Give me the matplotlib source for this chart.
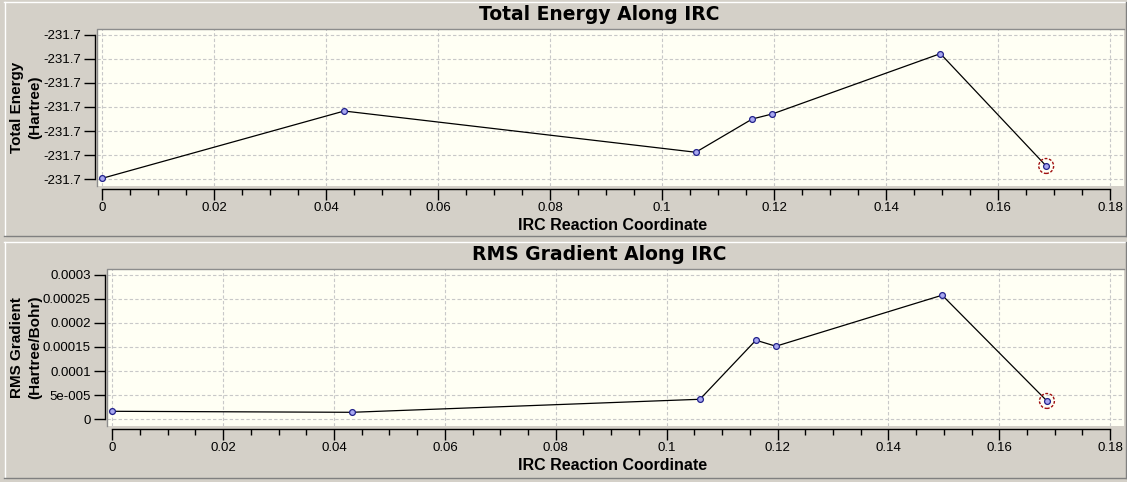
import numpy as np
import matplotlib
matplotlib.use("Agg")
import matplotlib.pyplot as plt
from matplotlib.lines import Line2D
from matplotlib.ticker import MultipleLocator, FixedLocator, FixedFormatter

# IRC data
irc_coord = [0.0, 0.0432, 0.1060, 0.1161, 0.1197, 0.1497, 0.1686]
total_energy = [-231.700596, -231.700317, -231.700488, -231.700350,
                -231.700329, -231.700079, -231.700545]
rms_gradient = [1.66e-5, 1.45e-5, 4.15e-5, 1.64e-4, 1.515e-4, 2.573e-4, 3.8e-5]

energy_ticks = [-231.7006, -231.7005, -231.7004, -231.7003, -231.7002, -231.7001, -231.7000]
energy_labels = ["-231.7"] * 7
grad_ticks = [0, 5e-5, 1e-4, 1.5e-4, 2e-4, 2.5e-4, 3e-4]
grad_labels = ["0", "5e-005", "0.0001", "0.00015", "0.0002", "0.00025", "0.0003"]
x_ticks = [0, 0.02, 0.04, 0.06, 0.08, 0.1, 0.12, 0.14, 0.16, 0.18]

W, H = 1127, 482
BG = "#d4d0c8"
PLOT_BG = "#fffff4"

plt.rcParams["font.family"] = "Liberation Sans"

fig = plt.figure(figsize=(W / 100, H / 100), dpi=100, facecolor=BG)


def fx(x):
    return x / W


def fy(y):
    return 1 - y / H


def hline(x0, x1, y, color):
    fig.add_artist(Line2D([fx(x0), fx(x1)], [fy(y), fy(y)], color=color, lw=1))


def vline(x, y0, y1, color):
    fig.add_artist(Line2D([fx(x), fx(x)], [fy(y0), fy(y1)], color=color, lw=1))


# sunken panel borders
for top, bot in [(1.5, 236), (241.5, 477.5)]:
    hline(4, 1126, top, "white")
    vline(4.5, top, bot, "white")
    hline(4, 1126, bot, "#808080")
    vline(1125.5, top, bot, "#808080")


def make_panel(left, top, bottom, y_vals, yticks, ylabels, ylim, title, ylabel, title_y, xlabel_y):
    right = 1124
    ax = fig.add_axes([fx(left), fy(bottom), fx(right - left), (bottom - top) / H])
    ax.set_facecolor(PLOT_BG)
    ax.set_xlim(-0.0009, 0.1825)
    ax.set_ylim(*ylim)

    ax.grid(True, color="#c8c8c8", linestyle=(0, (3, 2)), lw=0.8)
    ax.set_axisbelow(True)

    ax.plot(irc_coord, y_vals, color="black", lw=0.9, marker="o", ms=4.2,
            mfc="#a8a8f0", mec="#22228a", mew=0.9, zorder=3)
    ax.scatter(irc_coord[-1:], y_vals[-1:], s=115, facecolors="none",
               edgecolors="#a01010", linewidths=1.0, linestyles=(0, (2, 1.2)), zorder=4)

    for s in ["top", "right"]:
        ax.spines[s].set_visible(False)
    # gray frame on top/left of plot area
    ax.plot([0, 0, 1], [0, 1, 1], transform=ax.transAxes, color="#8c8c8c",
            lw=1, clip_on=False, zorder=5)

    ax.spines["left"].set_position(("outward", 2))
    ax.spines["left"].set_bounds(yticks[0], yticks[-1])
    ax.spines["left"].set_linewidth(1)
    ax.spines["bottom"].set_position(("outward", 2.5))
    ax.spines["bottom"].set_bounds(0, 0.18)
    ax.spines["bottom"].set_linewidth(1)

    ax.yaxis.set_major_locator(FixedLocator(yticks))
    ax.yaxis.set_major_formatter(FixedFormatter(ylabels))
    ax.xaxis.set_major_locator(FixedLocator(x_ticks))
    ax.xaxis.set_minor_locator(MultipleLocator(0.005))
    ax.set_xticklabels(["%g" % t for t in x_ticks])

    ax.tick_params(axis="both", which="major", direction="out", length=8,
                   width=1, labelsize=9.5, pad=2)
    ax.tick_params(axis="x", which="minor", direction="out", length=4, width=1)
    ax.tick_params(axis="x", which="major", pad=1)

    fig.text(fx(599), fy(title_y), title, ha="center", va="center",
             fontsize=13.5, fontweight="bold", family="DejaVu Sans")
    fig.text(fx(613), fy(xlabel_y), "IRC Reaction Coordinate", ha="center",
             va="center", fontsize=11.5, fontweight="bold")
    fig.text(fx(26), fy((top + bottom) / 2), ylabel, ha="center",
             va="center", rotation=90, fontsize=11, fontweight="bold",
             multialignment="center", linespacing=1.35)
    return ax


e_lo = -231.7006 - 0.000028
e_hi = -231.7000 + 0.000022
make_panel(97.3, 29.3, 186, total_energy, energy_ticks, energy_labels,
           (e_lo, e_hi), "Total Energy Along IRC", "Total Energy\n(Hartree)",
           15, 226)

make_panel(107.3, 269.3, 426, rms_gradient, grad_ticks, grad_labels,
           (-1.39e-5, 3.11e-4), "RMS Gradient Along IRC",
           "RMS Gradient\n(Hartree/Bohr)", 254, 466)

fig.savefig("out.png", dpi=100, facecolor=BG)
